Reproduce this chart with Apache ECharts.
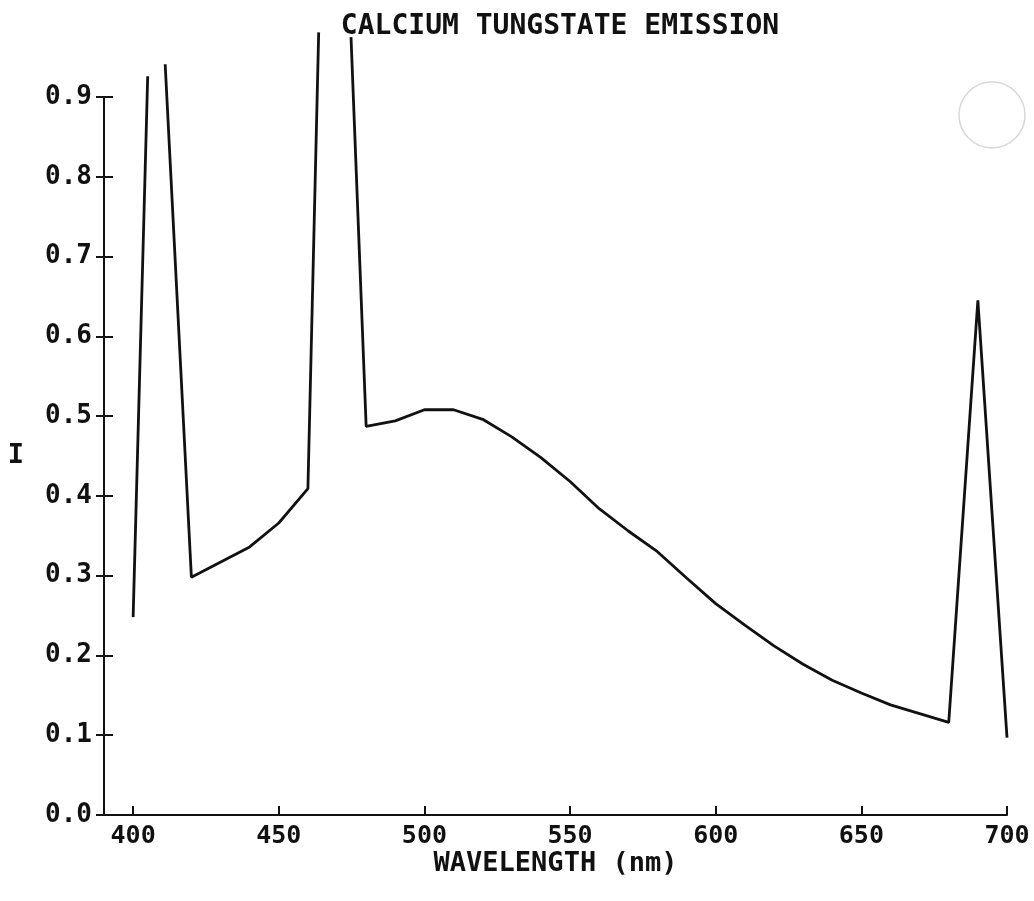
<!DOCTYPE html>
<html>
<head>
<meta charset="utf-8">
<script src="https://cdn.jsdelivr.net/npm/echarts@6/dist/echarts.min.js"></script>
<style>
html,body{margin:0;padding:0;background:#fff;}
#chart{width:1034px;height:901px;}
</style>
</head>
<body>
<div id="chart"></div>
<script>
// Wavelength (nm) and relative intensity.
// null marks where the traced line is broken at the top of a peak (no apex drawn).
const wavelength = [400, 405, 408, 411, 420, 440, 450, 460, 463.7, 469, 474.8, 480, 490, 500, 510, 520, 530, 540, 550, 560, 570, 580, 590, 600, 610, 620, 630, 640, 650, 660, 670, 680, 690, 700];
const intensity  = [0.248, 0.926, null, 0.941, 0.298, 0.336, 0.366, 0.409, 0.981, null, 0.975, 0.487, 0.494, 0.508, 0.508, 0.496, 0.474, 0.448, 0.418, 0.384, 0.356, 0.330, 0.297, 0.265, 0.238, 0.212, 0.189, 0.169, 0.153, 0.138, 0.127, 0.116, 0.645, 0.097];
const xTickValues = [400, 450, 500, 550, 600, 650, 700];
const titleText = 'CALCIUM TUNGSTATE EMISSION';
const xName = 'WAVELENGTH (nm)';
const yName = 'I';

const FONT = 'DejaVu Sans Mono';
const seriesData = wavelength.map((w, i) => [w, intensity[i] === null ? '-' : intensity[i]]);

const chart = echarts.init(document.getElementById('chart'), null, {renderer: 'canvas'});
chart.setOption({
  backgroundColor: '#ffffff',
  animation: false,
  title: {
    text: titleText,
    left: 555,
    top: 8,
    textAlign: 'center',
    textStyle: {fontFamily: FONT, fontWeight: 'bold', fontSize: 28, color: '#111'}
  },
  grid: {left: 104, right: 27, top: 97, bottom: 86, containLabel: false},
  xAxis: {
    type: 'value',
    min: 390,
    max: 700,
    name: xName,
    nameLocation: 'middle',
    nameGap: 35,
    nameMoveOverlap: false,
    nameTextStyle: {fontFamily: FONT, fontWeight: 'bold', fontSize: 27, color: '#111'},
    axisLine: {show: true, onZero: false, lineStyle: {color: '#111', width: 2}},
    axisTick: {show: true, inside: true, length: 9, customValues: xTickValues, lineStyle: {color: '#111', width: 2}},
    axisLabel: {show: true, customValues: xTickValues, margin: 9, fontFamily: FONT, fontWeight: 'bold', fontSize: 25, color: '#111'},
    splitLine: {show: false}
  },
  yAxis: [{
    type: 'value',
    min: 0,
    max: 0.9,
    interval: 0.1,
    name: yName,
    nameLocation: 'middle',
    nameRotate: 0,
    nameGap: 80,
    nameTextStyle: {fontFamily: FONT, fontWeight: 'bold', fontSize: 27, color: '#111'},
    axisLine: {show: true, lineStyle: {color: '#111', width: 2}},
    axisTick: {show: true, inside: true, length: 9, lineStyle: {color: '#111', width: 2}},
    axisLabel: {show: true, margin: 12, fontFamily: FONT, fontWeight: 'bold', fontSize: 26, color: '#111',
      formatter: v => v.toFixed(1)},
    splitLine: {show: false}
  }, {
    type: 'value',
    position: 'left',
    min: 0,
    max: 0.9,
    interval: 0.1,
    axisLine: {show: false},
    axisTick: {show: true, inside: false, length: 8, lineStyle: {color: '#111', width: 2}},
    axisLabel: {show: false},
    splitLine: {show: false}
  }],
  graphic: [{
    type: 'circle',
    shape: {cx: 992, cy: 115, r: 33},
    style: {fill: 'none', stroke: '#d8d8d8', lineWidth: 1.5},
    silent: true
  }],
  series: [{
    type: 'line',
    data: seriesData,
    xAxisIndex: 0,
    yAxisIndex: 0,
    clip: false,
    connectNulls: false,
    showSymbol: false,
    symbol: 'none',
    lineStyle: {color: '#111', width: 2.8},
    emphasis: {disabled: true}
  }]
});
</script>
</body>
</html>
